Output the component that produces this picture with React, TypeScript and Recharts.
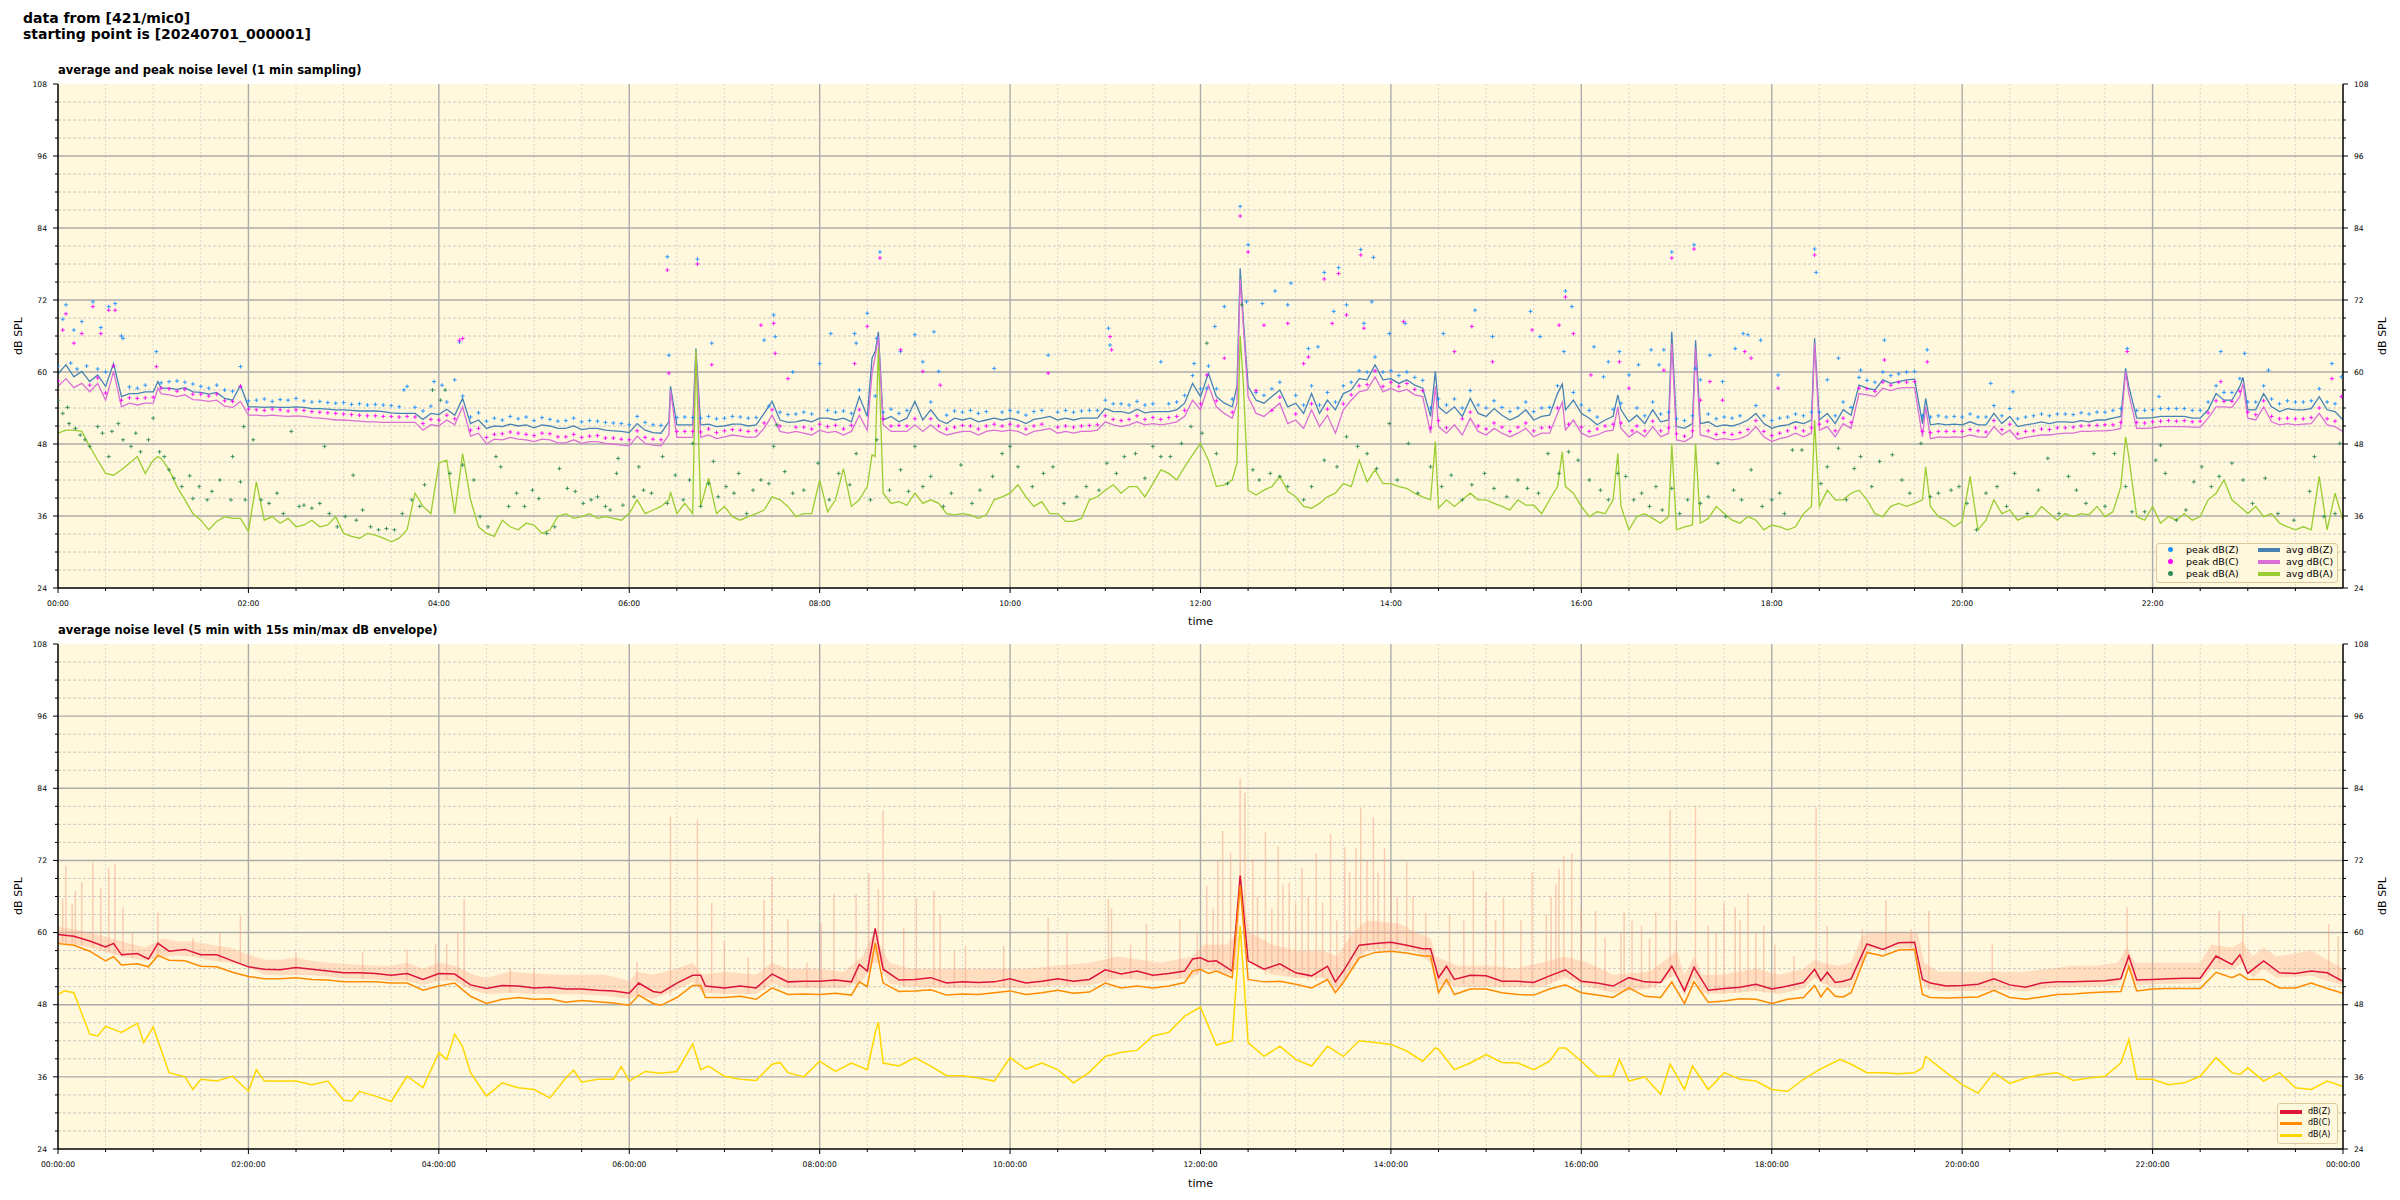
import React from 'react';
import { ComposedChart, Line, Scatter, Area, Bar, XAxis, YAxis, CartesianGrid } from 'recharts';

// ---------- tick labels ----------
const yTickLabels = [24, 36, 48, 60, 72, 84, 96, 108];
const topTimeLabels = ['00:00', '02:00', '04:00', '06:00', '08:00', '10:00', '12:00', '14:00', '16:00', '18:00', '20:00', '22:00'];
const bottomTimeLabels = ['00:00:00', '02:00:00', '04:00:00', '06:00:00', '08:00:00', '10:00:00', '12:00:00', '14:00:00', '16:00:00', '18:00:00', '20:00:00', '22:00:00', '00:00:00'];

// ---------- top chart: 1 min averages (minute of day, dB) ----------
const avgZ: [number, number][] = [
[0,59.7],[5,61.2],[10,59.2],[15,60.1],[20,58.4],[25,59.5],[30,57.6],[35,61.4],[40,55.9],[45,56.4],[50,56.4],[55,56.7],[60,56.7],[63,58.4],[65,57.3],[70,57.3],[75,57.1],[80,57.4],[85,56.7],[90,56.6],[95,56.3],[100,56.6],[105,55.6],[110,55.3],[115,57.8],[120,54.2],[125,54.2],[130,54.1],[135,54.2],[140,54.1],[145,54.1],[150,54.2],[155,54.1],[160,53.9],[165,53.9],[170,53.8],[175,53.7],[180,53.7],[185,53.6],[190,53.5],[195,53.5],[200,53.5],[205,53.4],[210,53.2],[215,53.1],[220,53.1],[225,53.1],[230,52.1],[235,53.1],[240,52.9],[245,53.8],[250,52.8],[255,55.6],[260,51.4],[265,52.0],[270,50.6],[275,51.0],[280,50.9],[285,51.3],[290,51.0],[295,51.2],[300,50.7],[305,51.2],[310,51.0],[315,50.6],[320,50.6],[325,51.0],[330,50.4],[335,50.6],[340,50.6],[345,50.3],[350,50.2],[355,50.1],[360,49.9],[365,51.4],[370,50.3],[375,49.9],[380,49.8],[385,51.7],[386,57.6],[390,51.2],[395,51.2],[400,51.2],[402,63.9],[405,51.2],[410,51.3],[415,50.9],[420,51.0],[425,51.3],[430,51.3],[435,51.0],[440,51.2],[445,53.1],[450,55.1],[455,52.0],[460,51.6],
[465,51.7],[470,52.0],[475,51.7],[480,52.3],[485,52.3],[490,52.0],[495,52.3],[500,51.7],[505,55.9],[510,52.6],[513,62.3],[515,63.4],[517,66.7],[520,52.0],[525,52.6],[530,51.7],[535,52.3],[540,55.1],[545,52.0],[550,53.7],[555,52.0],[560,51.4],[565,52.3],[570,52.0],[575,52.3],[580,51.7],[585,52.0],[590,52.3],[595,52.0],[600,52.3],[605,52.0],[610,51.4],[615,52.1],[620,52.3],[625,52.6],[630,52.0],[635,52.3],[640,52.0],[645,52.3],[650,52.3],[655,52.3],[660,53.9],[665,53.4],[670,53.4],[675,53.1],[680,53.8],[685,53.2],[690,53.4],[695,53.4],[700,53.4],[705,53.7],[710,54.8],[715,58.1],[720,55.9],[725,59.8],[730,55.9],[735,54.8],[740,54.2],[743,57.6],[745,77.3],[747,68.7],[750,57.6],[755,55.3],[760,54.8],[765,55.9],[770,57.0],[775,54.2],[780,54.8],[785,53.1],[790,56.4],[795,53.1],[800,55.3],[805,53.7],[810,56.4],[815,57.0],[820,58.9],[825,58.7],[830,61.2],[835,58.7],[840,58.9],[845,58.1],[850,58.7],[855,57.8],[860,57.3],[865,52.6],[868,60.1],[870,54.2],[875,53.1],[880,54.2],[885,52.6],[890,55.6],[895,53.1],[900,52.6],[905,53.9],[910,52.8],[915,52.0],[920,52.6],[925,53.7],[930,52.0],[935,52.6],[940,52.8],[945,56.4],[948,58.0],[950,53.7],[955,55.3],[960,53.1],[965,52.3],
[970,51.2],[975,52.0],[980,52.6],[983,56.2],[985,53.7],[990,51.7],[995,52.8],[1000,51.4],[1005,53.7],[1010,51.7],[1015,52.0],[1017,66.7],[1020,50.9],[1025,50.6],[1030,51.4],[1032,65.3],[1035,51.4],[1040,51.7],[1045,50.9],[1050,51.2],[1055,51.0],[1060,51.4],[1065,52.0],[1070,53.1],[1075,51.4],[1080,50.6],[1085,51.0],[1090,51.2],[1095,51.7],[1100,51.4],[1105,52.0],[1107,65.6],[1110,52.0],[1115,53.1],[1120,51.4],[1125,53.7],[1130,52.8],[1135,57.8],[1140,57.3],[1145,57.0],[1150,58.7],[1155,58.1],[1160,58.4],[1165,58.7],[1170,58.8],[1175,51.4],[1177,55.6],[1180,51.2],[1185,51.4],[1190,51.2],[1195,51.3],[1200,51.2],[1205,51.7],[1210,51.2],[1215,51.2],[1220,53.1],[1225,51.4],[1230,52.6],[1235,50.9],[1240,51.2],[1245,51.4],[1250,51.7],[1255,51.4],[1260,51.7],[1265,51.7],[1270,51.6],[1275,51.9],[1280,51.7],[1285,52.0],[1290,52.0],[1295,52.3],[1300,52.6],[1303,60.6],[1305,57.6],[1310,52.3],[1315,52.3],[1320,52.4],[1325,52.6],[1330,52.6],[1335,52.6],[1340,52.6],[1345,52.3],[1350,52.3],[1355,53.7],[1360,56.4],[1365,55.3],[1370,55.3],[1375,57.6],[1377,59.1],[1380,53.7],[1385,53.7],[1390,56.4],[1395,54.2],[1400,53.4],[1405,53.9],[1410,53.7],[1415,53.7],[1420,53.9],[1425,55.9],[1430,53.7],[1435,53.4],[1440,52.0]
];

const avgC: [number, number][] = [
[0,57.6],[5,58.9],[10,57.4],[15,58.1],[20,56.7],[25,58.1],[30,55.3],[35,60.1],[40,54.2],[45,54.8],[50,54.5],[55,54.8],[60,54.8],[63,57.3],[65,56.4],[70,56.2],[75,55.9],[80,56.2],[85,55.4],[90,55.3],[95,55.1],[100,55.3],[105,54.3],[110,54.1],[115,55.1],[120,52.8],[125,52.8],[130,52.7],[135,52.8],[140,52.7],[145,52.6],[150,52.7],[155,52.6],[160,52.4],[165,52.3],[170,52.2],[175,52.0],[180,52.0],[185,51.9],[190,51.8],[195,51.7],[200,51.7],[205,51.6],[210,51.6],[215,51.6],[220,51.6],[225,51.6],[230,50.3],[235,51.2],[240,51.0],[245,52.0],[250,51.2],[255,54.2],[260,49.3],[265,49.8],[270,48.0],[275,48.8],[280,48.7],[285,49.1],[290,48.8],[295,48.7],[300,48.4],[305,48.8],[310,48.7],[315,48.2],[320,48.2],[325,48.7],[330,48.1],[335,48.4],[340,48.4],[345,48.1],[350,48.0],[355,47.8],[360,47.7],[365,49.3],[370,48.1],[375,47.8],[380,47.7],[385,49.5],[386,57.0],[390,49.1],[395,49.1],[400,49.1],[402,63.1],[405,49.1],[410,49.5],[415,48.9],[420,49.2],[425,49.5],[430,49.3],[435,49.1],[440,49.2],[445,50.6],[450,52.8],[455,50.1],[460,49.8],
[465,50.1],[470,49.8],[475,49.5],[480,50.3],[485,49.9],[490,50.1],[495,49.5],[500,50.1],[505,52.8],[510,50.3],[513,59.8],[515,62.6],[517,65.9],[520,51.2],[525,50.1],[530,50.1],[535,50.1],[540,51.2],[545,50.1],[550,51.2],[555,50.1],[560,49.5],[565,49.8],[570,50.1],[575,50.1],[580,49.5],[585,50.1],[590,50.3],[595,50.1],[600,50.3],[605,50.1],[610,49.5],[615,50.1],[620,50.3],[625,50.6],[630,49.8],[635,50.1],[640,49.8],[645,50.1],[650,50.1],[655,50.3],[660,51.7],[665,51.2],[670,50.9],[675,51.2],[680,51.7],[685,51.2],[690,51.4],[695,51.2],[700,51.4],[705,51.7],[710,52.6],[715,55.3],[720,53.7],[725,57.8],[730,54.2],[735,53.1],[740,52.3],[743,54.8],[745,75.5],[747,67.6],[750,55.9],[755,53.1],[760,52.6],[765,53.7],[770,54.8],[775,51.4],[780,52.0],[785,50.6],[790,53.7],[795,50.9],[800,52.8],[805,49.8],[810,53.7],[815,55.3],[820,56.7],[825,57.0],[830,59.2],[835,56.7],[840,57.3],[845,56.7],[850,57.1],[855,56.2],[860,55.9],[865,49.8],[868,57.6],[870,50.9],[875,49.8],[880,51.2],[885,49.5],[890,52.3],[895,50.1],[900,49.5],[905,50.6],[910,49.8],[915,49.2],[920,49.8],[925,50.6],[930,49.2],[935,49.8],[940,49.8],[945,53.1],[948,55.0],[950,50.3],[955,52.0],[960,49.8],[965,49.2],
[970,49.5],[975,50.1],[980,50.3],[983,54.2],[985,50.6],[990,49.2],[995,50.1],[1000,49.2],[1005,50.9],[1010,49.2],[1015,49.8],[1017,64.8],[1020,48.7],[1025,48.4],[1030,49.2],[1032,63.9],[1035,49.5],[1040,49.2],[1045,48.7],[1050,48.9],[1055,48.7],[1060,48.9],[1065,49.5],[1070,50.9],[1075,49.2],[1080,48.4],[1085,48.9],[1090,49.2],[1095,49.8],[1100,49.2],[1105,49.8],[1107,64.8],[1110,50.3],[1115,50.9],[1120,49.2],[1125,51.4],[1130,50.6],[1135,56.4],[1140,56.2],[1145,55.9],[1150,57.3],[1155,56.9],[1160,57.3],[1165,57.4],[1170,57.4],[1175,49.2],[1177,54.2],[1180,48.9],[1185,49.2],[1190,49.1],[1195,49.2],[1200,49.1],[1205,49.5],[1210,49.2],[1215,49.1],[1220,50.9],[1225,49.5],[1230,50.3],[1235,48.8],[1240,49.1],[1245,49.3],[1250,49.5],[1255,49.5],[1260,49.7],[1265,49.8],[1270,49.8],[1275,50.1],[1280,50.1],[1285,50.2],[1290,50.2],[1295,50.3],[1300,50.6],[1303,60.1],[1305,56.4],[1310,50.6],[1315,50.6],[1320,50.7],[1325,50.9],[1330,50.9],[1335,50.9],[1340,50.9],[1345,50.8],[1350,50.8],[1355,52.3],[1360,54.2],[1365,54.2],[1370,54.1],[1375,55.9],[1377,58.1],[1380,52.3],[1385,52.0],[1390,54.2],[1395,51.7],[1400,51.2],[1405,51.4],[1410,51.2],[1415,51.3],[1420,51.4],[1425,53.1],[1430,51.2],[1435,50.9],[1440,50.1]
];

const avgA: [number, number][] = [
[0,49.8],[5,50.3],[10,50.3],[15,50.1],[20,47.6],[25,45.3],[30,43.1],[35,42.8],[40,43.7],[45,44.8],[50,45.9],[55,43.1],[60,45.3],[63,45.9],[65,45.6],[70,43.7],[75,40.9],[80,38.7],[85,36.4],[90,35.3],[95,33.7],[100,35.1],[105,35.9],[110,35.6],[115,35.6],[120,33.4],[125,41.7],[130,35.3],[135,35.9],[140,34.8],[145,35.6],[150,34.2],[155,34.5],[160,35.3],[165,34.2],[170,34.5],[175,35.9],[180,33.1],[185,32.6],[190,32.3],[195,33.1],[200,32.8],[205,32.3],[210,31.7],[215,32.3],[220,33.7],[225,39.8],[230,37.6],[235,36.4],[240,44.8],[245,45.3],[250,36.4],[255,46.4],[260,38.7],[265,34.2],[270,33.1],[275,32.6],[280,35.3],[285,34.2],[290,33.7],[295,34.8],[300,34.5],[305,33.1],[310,33.7],[315,35.9],[320,36.4],[325,35.6],[330,35.9],[335,36.4],[340,35.6],[345,35.9],[350,35.6],[355,35.3],[360,36.4],[365,38.7],[370,36.4],[375,37.0],[380,37.6],[385,38.7],[386,40.0],[390,36.4],[395,38.1],[400,36.4],[402,63.7],[405,37.6],[410,42.3],[415,36.4],[420,37.6],[425,35.9],[430,35.3],[435,35.9],[440,36.4],[445,37.0],[450,39.2],[455,38.7],[460,37.6],
[465,35.9],[470,36.4],[475,36.4],[480,42.0],[485,36.7],[490,38.7],[495,43.9],[500,37.6],[505,38.7],[510,40.9],[513,46.2],[515,45.9],[517,64.0],[520,39.8],[525,38.1],[530,38.4],[535,37.8],[540,39.8],[545,38.1],[550,38.7],[555,38.1],[560,36.4],[565,36.2],[570,36.4],[575,36.2],[580,35.6],[585,36.2],[590,38.7],[595,39.2],[600,39.8],[605,41.2],[610,39.2],[615,37.6],[620,38.4],[625,36.4],[630,36.4],[635,35.1],[640,35.1],[645,35.6],[650,38.7],[655,39.2],[660,40.3],[665,41.2],[670,39.8],[675,40.9],[680,40.9],[685,39.2],[690,41.4],[695,43.7],[700,43.1],[705,42.0],[710,44.2],[715,46.2],[720,48.1],[725,45.3],[730,40.9],[735,41.2],[740,42.0],[743,44.8],[745,66.0],[747,58.1],[750,40.3],[755,39.5],[760,40.3],[765,40.9],[770,42.6],[775,40.1],[780,39.2],[785,37.6],[790,37.3],[795,38.1],[800,39.2],[805,39.8],[810,41.4],[815,40.9],[820,45.3],[825,41.7],[830,43.7],[835,41.4],[840,41.4],[845,40.9],[850,40.6],[855,39.8],[860,39.2],[865,38.7],[868,48.4],[870,37.3],[875,38.7],[880,37.6],[885,38.7],[890,39.8],[895,38.7],[900,38.7],[905,38.1],[910,37.6],[915,37.0],[920,38.7],[925,37.8],[930,37.8],[935,36.4],[940,38.7],[945,40.9],[948,46.7],[950,40.9],[955,39.8],[960,37.6],[965,35.9],
[970,36.7],[975,36.4],[980,38.7],[983,46.4],[985,37.6],[990,33.7],[995,35.9],[1000,36.4],[1005,35.6],[1010,34.8],[1015,35.9],[1017,48.0],[1020,33.7],[1025,34.2],[1030,34.5],[1032,48.0],[1035,34.8],[1040,35.6],[1045,37.6],[1050,36.4],[1055,35.3],[1060,34.8],[1065,35.9],[1070,35.3],[1075,33.7],[1080,34.5],[1085,34.2],[1090,33.7],[1095,34.2],[1100,36.4],[1105,37.6],[1107,52.0],[1110,37.6],[1115,40.3],[1120,38.7],[1125,38.7],[1130,39.8],[1135,40.3],[1140,38.7],[1145,36.4],[1150,35.9],[1155,37.6],[1160,38.1],[1165,37.6],[1170,38.1],[1175,38.7],[1177,44.2],[1180,37.6],[1185,35.9],[1190,35.3],[1195,34.2],[1200,35.1],[1205,42.6],[1210,33.7],[1215,35.3],[1220,38.7],[1225,36.4],[1230,37.0],[1235,35.3],[1240,35.9],[1245,35.9],[1250,37.6],[1255,36.4],[1260,35.3],[1265,36.4],[1270,35.9],[1275,36.4],[1280,36.2],[1285,37.6],[1290,35.9],[1295,36.7],[1300,40.9],[1303,49.2],[1305,45.9],[1310,35.9],[1315,35.3],[1320,37.6],[1325,34.8],[1330,35.9],[1335,35.3],[1340,36.4],[1345,35.3],[1350,35.9],[1355,38.7],[1360,39.8],[1365,42.0],[1370,38.7],[1375,37.6],[1380,36.4],[1385,37.6],[1390,35.9],[1395,36.4],[1400,34.8],[1405,34.2],[1410,33.7],[1415,34.2],[1420,33.7],[1425,42.6],[1430,33.7],[1435,39.8],[1440,35.3]
];

// ---------- top chart: 1 min peaks ----------
const peakZ: [number, number][] = [
[0,61],[3,68.8],[5,71.2],[8,61.5],[10,67],[12,60.5],[15,68.4],[18,61],[22,71.7],[25,60.5],[27,67.4],[30,60],[32,70.9],[36,71.4],[40,66],[41,65.6],[45,57.5],[50,57.3],[55,57.8],[62,63.4],[65,58.2],[70,58.4],[75,58.5],[80,58.3],[85,58],[90,57.6],[95,57.3],[100,57.8],[105,57],[110,56.8],[115,60.9],[120,55.2],[125,55.3],[130,55.5],[135,55.1],[140,55.4],[145,55.3],[150,55.6],[155,55.2],[160,55],[165,55.1],[170,54.9],[175,54.8],[180,54.9],[185,54.6],[190,54.7],[195,54.5],[200,54.6],[205,54.5],[210,54.4],[215,54.2],[218,57],[220,57.6],[225,54.1],[230,53.5],[235,54.3],[237,58.4],[242,57.8],[245,55],[250,58.7],[253,65],[255,56],[260,52.5],[265,53.2],[270,51.8],[275,52.3],[280,52],[285,52.6],[290,52.2],[295,52.5],[300,51.9],[305,52.4],[310,52.1],[315,51.8],[320,51.9],[325,52.3],[330,51.7],[335,51.9],[340,51.8],[345,51.6],[350,51.5],[355,51.4],[360,51.2],[365,52.6],[370,51.6],[375,51.2],[380,51.1],[384,79.2],[385,62.8],[390,52.4],[395,52.5],[400,52.4],[403,78.8],[405,52.3],[410,52.6],[412,64.8],[415,52.2],[420,52.3],[425,52.6],[430,52.5],[435,52.3],[440,52.4],[445,65.3],[448,54.3],[451,69.5],[452,65.9],[455,53.3],[460,52.9],[463,60],
[465,53],[470,53.3],[475,53],[480,61.4],[485,53.6],[487,66.4],[490,53.3],[495,53.5],[500,53.1],[502,66.4],[503,64.8],[505,57],[510,69.8],[515,56],[516,65.6],[518,80],[520,53.3],[525,53.8],[530,53.1],[531,63.4],[535,53.6],[540,66.2],[545,61.7],[550,55],[552,66.7],[555,60.1],[560,52.8],[565,53.5],[570,53.3],[575,53.6],[580,53.1],[585,53.4],[590,60.6],[595,53.3],[600,53.6],[605,53.3],[610,52.8],[615,53.4],[620,53.6],[624,62.8],[630,53.3],[635,53.6],[640,53.3],[645,53.5],[650,53.6],[655,53.6],[660,55.3],[662,67.3],[663,64.5],[665,54.7],[670,54.7],[675,54.5],[680,55.1],[685,54.5],[690,54.7],[695,61.7],[700,54.7],[705,55],[710,56.1],[715,59.4],[716,61.4],[720,57.2],[724,57.3],[725,61],[729,67.6],[730,57.2],[735,70.9],[740,55.5],[745,87.6],[749,71.7],[750,81.2],[755,56.6],[759,71.4],[760,56.1],[765,57.2],[767,73.5],[770,58.3],[775,71.2],[777,74.8],[780,56.1],[785,54.5],[788,63.9],[790,57.7],[794,64.2],[795,54.5],[798,76.6],[800,56.6],[804,70.1],[805,55],[807,77.4],[810,57.7],[812,71.2],[815,58.3],[820,60.2],[821,80.4],[823,68.1],[825,60],[828,71.7],[829,79.1],[830,62.5],[835,60],[839,66.4],[840,60.2],[845,59.4],[849,68.1],[850,60],[855,59.1],[860,58.6],[865,54],[870,55.5],[873,66.4],[875,54.5],[880,55.5],[885,54],[890,56.9],[893,70.3],[895,54.5],[900,54],[904,65.9],[905,55.2],[910,54.1],[915,53.4],[920,54],[925,55],[928,70.1],[930,53.4],[934,65.9],[935,54],[940,54.1],[945,57.7],[949,63.4],[950,73.5],[954,70.9],[955,56.6],[960,54.5],[965,53.6],[968,64.2],
[970,52.5],[974,59.2],[977,61.7],[980,53.8],[984,63.4],[985,54.8],[990,59.5],[995,54],[996,61.2],[1000,52.7],[1004,63.7],[1005,55],[1009,61.2],[1010,53],[1012,63.7],[1015,53.3],[1017,80],[1020,52.2],[1025,51.9],[1030,52.7],[1031,81.2],[1032,60.6],[1035,58.7],[1040,53],[1041,62.8],[1045,52.2],[1049,58.4],[1050,52.5],[1055,52.3],[1057,63.9],[1060,52.7],[1062,66.4],[1065,66.2],[1070,54.4],[1073,65.3],[1075,52.7],[1080,51.9],[1084,59.5],[1085,52.3],[1090,52.5],[1095,53],[1100,52.7],[1105,53.3],[1107,80.5],[1108,76.6],[1110,53.3],[1115,58.7],[1120,52.7],[1122,62.3],[1125,55],[1130,54.1],[1135,59.1],[1136,60.3],[1140,58.6],[1145,58.3],[1150,60],[1151,65.3],[1155,59.4],[1160,59.7],[1165,60],[1170,60.1],[1175,52.7],[1178,63.7],[1180,52.5],[1185,52.7],[1190,52.5],[1195,52.6],[1200,52.5],[1205,53],[1210,52.5],[1215,52.5],[1218,58.1],[1220,54.4],[1225,52.7],[1230,53.9],[1232,56.7],[1235,52.2],[1240,52.5],[1245,52.7],[1250,53],[1255,52.7],[1260,53],[1265,53],[1270,52.9],[1275,53.2],[1280,53],[1285,53.3],[1290,53.3],[1295,53.6],[1300,53.9],[1304,63.9],[1310,53.6],[1315,53.6],[1320,53.7],[1324,55.9],[1325,53.9],[1330,53.9],[1335,53.9],[1340,53.9],[1345,53.6],[1350,53.6],[1355,55],[1360,57.7],[1363,63.4],[1365,56.6],[1370,56.6],[1375,58.9],[1378,63.1],[1380,55],[1385,55],[1390,57.7],[1393,60.3],[1395,55.5],[1400,54.7],[1405,55.2],[1410,55],[1415,55],[1420,55.2],[1425,57.2],[1430,55],[1433,61.4],[1435,54.7],[1439,59.2]
];

const peakC: [number, number][] = [
[0,58.5],[3,67],[5,69.7],[10,64.8],[15,66.4],[20,57.8],[22,70.9],[25,59],[27,66.4],[30,56.5],[32,70.3],[35,61],[36,70.3],[40,55.3],[45,55.7],[50,55.6],[55,55.7],[60,55.8],[62,60.9],[65,57.3],[70,57.2],[75,56.8],[80,57.1],[85,56.3],[90,56.3],[95,56],[100,56.3],[105,55.2],[110,55.1],[115,57.6],[120,53.8],[125,53.7],[130,53.6],[135,53.8],[140,53.7],[145,53.5],[150,53.7],[155,53.6],[160,53.4],[165,53.3],[170,53.2],[175,53.1],[180,53],[185,52.9],[190,52.8],[195,52.7],[200,52.7],[205,52.6],[210,52.6],[215,52.5],[220,52.6],[225,52.5],[230,51.4],[235,52.1],[240,52],[245,52.8],[250,52.2],[253,65.3],[255,65.6],[260,50.3],[265,50.6],[270,49.1],[275,49.6],[280,49.7],[285,50],[290,49.8],[295,49.6],[300,49.4],[305,49.8],[310,49.7],[315,49.2],[320,49.2],[325,49.6],[330,49.1],[335,49.3],[340,49.4],[345,49],[350,49],[355,48.8],[360,48.7],[365,50.2],[370,49.1],[375,48.8],[380,48.7],[384,77],[385,59.8],[390,50.1],[395,50.1],[400,50.1],[403,78],[405,50],[410,50.5],[412,61.2],[415,49.9],[420,50.2],[425,50.4],[430,50.3],[435,50.1],[440,50.2],[443,67.8],[445,51.5],[450,53.7],[451,68.1],[452,63.1],[455,51],[460,58.9],[465,50.8],
[470,50.8],[475,50.5],[480,51.3],[485,50.9],[490,51.1],[495,50.5],[500,51.1],[502,61.4],[505,53.7],[510,67.6],[518,79],[520,52.2],[525,51],[530,51.1],[531,63.7],[535,51],[540,52.2],[545,60.1],[550,52.2],[555,51],[556,57.8],[560,50.5],[565,50.8],[570,51.1],[575,51],[580,50.5],[585,51],[590,51.3],[595,51],[600,51.3],[605,51],[610,50.5],[615,51],[620,51.3],[624,59.8],[630,50.8],[635,51],[640,50.8],[645,51],[650,51.1],[655,51.2],[660,52.7],[663,65.9],[664,63.7],[665,52.1],[670,51.9],[675,52.1],[680,52.7],[685,52.1],[690,52.4],[695,52.1],[700,52.4],[705,52.6],[710,53.6],[720,54.7],[724,59.5],[730,55.2],[735,62.3],[740,53.3],[745,86],[750,80],[755,56.9],[760,67.8],[765,53.6],[770,55.8],[775,68.1],[780,53],[785,61.4],[788,62.5],[790,54.7],[798,75.5],[800,53.8],[803,68.1],[807,76.4],[810,54.7],[812,69.5],[815,56.2],[820,57.7],[821,79.5],[823,67.3],[825,57.9],[830,60.2],[835,57.6],[840,58.3],[845,57.6],[848,68.4],[850,58.1],[855,57.1],[860,56.9],[865,50.7],[870,51.9],[875,50.7],[880,63.4],[885,52.2],[890,53.3],[891,67.6],[895,51],[900,50.5],[904,61.7],[905,51.5],[910,50.8],[915,50.1],[920,50.8],[925,51.5],[929,67],[930,50.2],[935,50.7],[940,50.8],[945,54],[946,67.8],[950,72.5],[952,51.3],[955,66.4],[960,50.8],[965,50.1],[966,59.5],
[970,50.5],[975,51],[980,51.3],[984,61.7],[985,51.5],[990,57.3],[992,50.2],[995,51],[1000,50.2],[1005,51.8],[1010,50.2],[1012,60.3],[1015,50.7],[1017,79],[1020,49.7],[1025,49.3],[1030,50.2],[1031,80.5],[1035,55.3],[1040,50.2],[1041,58.4],[1045,49.6],[1049,55.3],[1050,49.9],[1055,49.6],[1060,49.9],[1063,63.4],[1065,50.4],[1067,62.3],[1070,51.9],[1075,50.1],[1080,49.4],[1084,57.3],[1085,49.8],[1090,50.2],[1095,50.7],[1100,50.2],[1105,50.7],[1107,79.5],[1110,51.3],[1115,51.8],[1120,50.2],[1125,52.3],[1130,51.6],[1135,57.3],[1140,57.2],[1145,56.8],[1150,58.3],[1151,62],[1155,57.8],[1160,58.3],[1165,58.3],[1170,58.4],[1175,50.1],[1178,61.7],[1180,49.9],[1185,50.1],[1190,50.1],[1195,50.1],[1200,50.1],[1205,50.4],[1210,50.2],[1215,50],[1220,51.9],[1225,50.4],[1230,51.3],[1235,49.7],[1240,50.1],[1245,50.2],[1250,50.5],[1255,50.4],[1260,50.7],[1265,50.7],[1270,50.8],[1275,51],[1280,51.1],[1285,51.1],[1290,51.2],[1295,51.2],[1300,51.6],[1304,63.4],[1310,51.6],[1315,51.5],[1320,51.7],[1325,51.8],[1330,51.9],[1335,51.8],[1340,51.9],[1345,51.7],[1350,51.8],[1355,53.2],[1360,55.2],[1363,58.4],[1365,55.1],[1370,55.1],[1375,56.8],[1380,53.3],[1385,52.9],[1390,55.2],[1395,52.6],[1400,52.2],[1405,52.3],[1410,52.2],[1415,52.2],[1420,52.4],[1425,54],[1430,52.2],[1433,58.9],[1435,51.8],[1439,55.9]
];

const peakA: [number, number][] = [
[0,55.3],[3,53.1],[6,54.1],[7,51.4],[11,50.6],[14,49.5],[17,48.7],[20,47.6],[25,50.9],[28,49.8],[32,45.9],[34,50.1],[38,51.4],[41,48.7],[46,47.6],[49,49.8],[52,46.7],[57,48.7],[60,52.3],[64,46.7],[67,45.9],[70,43.7],[73,42.3],[78,40.9],[83,42.7],[85,38.9],[89,40.9],[94,38.7],[97,40.1],[102,42],[109,38.7],[110,45.9],[115,41.7],[117,50.9],[118,38.7],[123,48.7],[128,38.7],[133,38.1],[138,39.8],[142,36.4],[147,50.1],[152,37.6],[155,37.8],[160,37.3],[165,38.1],[168,47.6],[171,36.4],[176,34.2],[181,35.9],[186,42.8],[188,35.3],[192,37],[197,34.2],[202,33.7],[207,33.9],[212,33.7],[217,36.4],[223,38.7],[228,37.6],[231,41.2],[236,57],[241,55.3],[244,57],[247,43.1],[255,44.5],[262,42],[266,35.9],[271,34.2],[276,45.9],[279,44.2],[284,37.6],[289,39.8],[294,37.6],[299,40.3],[303,38.9],[308,33.1],[313,34.2],[316,43.9],[321,40.6],[326,40.1],[331,38.1],[336,38.7],[340,39.2],[345,37.6],[348,37],[352,43.1],[353,45.6],[356,37.8],[363,39.2],[366,44.2],[369,40.3],[374,39.8],[381,45.9],[384,38.1],[389,42.8],[394,38.7],[398,42],[400,48.1],[405,37.6],[410,41.4],[413,45.1],[416,39.2],[421,40.9],[426,39.8],[429,43.1],[434,36.4],[438,40.3],[443,42],[448,41.4],[451,47.6],[453,51.2],[458,43.4],[463,39.8],
[470,40.3],[479,44.8],[486,38.7],[492,43.1],[499,41.2],[503,46.4],[512,38.7],[516,48.7],[524,40.3],[531,43.7],[536,40.1],[540,47.6],[545,40.9],[550,42.6],[558,37.6],[563,39.8],[569,44.5],[576,38.1],[581,40.3],[589,42.6],[595,46.4],[600,47.6],[605,44.2],[614,40.9],[621,43.1],[627,44.2],[634,38.1],[642,39.2],[648,40.9],[656,40.3],[661,44.8],[667,43.1],[672,45.9],[679,46.4],[685,42.3],[690,47.6],[695,45.9],[701,45.9],[708,48.1],[714,50.9],[721,49.8],[724,64.8],[730,46.4],[737,41.4],[746,71.2],[753,43.7],[757,42],[764,43.1],[770,42.6],[775,40.9],[785,38.7],[790,40.9],[798,45.3],[806,44.2],[812,49.2],[819,47.6],[825,46.4],[831,43.9],[839,51.4],[844,42],[851,48.1],[857,39.8],[865,44.2],[872,40.9],[878,42.8],[885,38.7],[891,41.2],[899,43.1],[905,40.6],[913,39.2],[920,42],[926,40.6],[933,39.8],[939,46.4],[946,43.1],[952,46.7],[958,45.3],[965,42],
[972,40.3],[977,38.7],[983,43.1],[988,42.6],[993,38.7],[998,39.8],[1003,37.6],[1007,40.9],[1011,37],[1017,40.6],[1022,36.4],[1027,38.7],[1035,38.1],[1040,39.2],[1046,44.8],[1051,35.9],[1056,40.3],[1061,38.7],[1067,43.7],[1074,37.6],[1080,38.7],[1085,39.8],[1088,36.4],[1093,47],[1099,47],[1111,41.4],[1115,44.2],[1122,47.3],[1127,38.7],[1132,43.9],[1136,45.9],[1143,40.9],[1148,45.1],[1156,46.2],[1162,42],[1167,39.8],[1174,48.1],[1180,39.2],[1185,39.8],[1193,40.3],[1198,40.9],[1203,38.1],[1209,33.7],[1215,39.8],[1222,40.9],[1228,37.6],[1233,43.1],[1241,36.4],[1248,40.3],[1254,45.6],[1261,36.4],[1267,42.6],[1272,40.3],[1278,38.1],[1283,46.4],[1290,37.6],[1296,46.4],[1303,40.9],[1307,36.7],[1315,36.7],[1322,45.3],[1325,47.8],[1328,43.1],[1335,35.3],[1341,37],[1346,41.7],[1351,44.2],[1357,40.9],[1362,42.6],[1370,44.8],[1377,42],[1383,38.1],[1391,42.3],[1399,36.4],[1409,35.3],[1419,40.1],[1422,45.9],[1428,35.9],[1435,36.4],[1438,48.1]
];

// ---------- bottom chart: 5 min averages ----------
const botZ: [number, number][] = [
[0,59.7],[10,59.4],[20,58.6],[30,57.6],[35,58.2],[40,56.3],[50,56.5],[57,55.6],[63,58.2],[70,56.9],[80,57.2],[90,56.3],[100,56.3],[110,55.3],[120,54.3],[130,53.9],[140,53.8],[150,54.2],[160,53.9],[170,53.6],[180,53.3],[190,53.3],[200,53.2],[210,52.9],[220,53.2],[230,52.2],[240,53.2],[250,53.1],[260,51.3],[270,50.7],[280,51.2],[290,51.1],[300,50.8],[310,50.9],[320,50.6],[330,50.6],[340,50.4],[350,50.3],[360,49.9],[366,51.6],[375,50.2],[380,50.0],[390,51.6],[400,52.9],[405,52.9],[408,51.1],[420,50.8],[430,51.1],[440,50.8],[450,53.1],[460,51.8],[470,51.9],[480,51.9],[490,52.1],[500,51.8],[505,54.7],[510,53.6],[515,60.7],[520,53.9],[530,52.1],[540,52.2],[550,52.5],[560,51.6],[570,51.8],[580,51.7],[590,51.8],[600,52.3],[610,51.6],[620,51.9],[630,52.3],[640,51.9],[650,52.2],[660,53.8],[670,53.1],[680,53.6],[690,52.9],[700,53.2],[710,53.6],[715,55.6],[720,55.8],[725,55.2],[730,55.3],[740,53.6],[745,69.5],[750,55.3],[760,53.9],[770,54.8],[780,53.3],[790,52.8],[800,54.4],[805,51.8],[810,53.6],[820,57.9],[830,58.2],[840,58.4],[850,57.9],[860,57.3],[865,57.3],[870,52.5],[875,54.4],[880,52.2],[890,52.9],[900,52.8],[910,51.9],[920,51.9],[930,51.7],[940,52.8],[950,53.8],[960,51.9],[970,51.6],[980,51.1],[990,52.5],[1000,51.8],[1010,51.7],[1017,54.4],[1025,50.3],[1031,54.2],[1040,50.4],[1050,50.7],[1060,50.9],[1070,51.4],[1080,50.6],[1090,51.1],[1100,51.7],[1107,53.9],[1111,52.0],[1115,53.4],[1120,51.7],[1125,51.9],[1130,52.3],[1140,58.1],[1150,57.2],[1160,58.3],[1170,58.4],[1175,52.2],[1180,51.6],[1190,51.1],[1200,51.2],[1210,51.4],[1220,52.3],[1230,51.3],[1240,50.9],[1250,51.6],[1260,51.8],[1270,51.8],[1280,51.9],[1290,52.0],[1300,52.3],[1305,56.1],[1310,52.1],[1320,52.2],[1330,52.3],[1340,52.4],[1350,52.4],[1360,56.1],[1370,54.7],[1375,56.3],[1380,53.2],[1390,55.3],[1400,53.3],[1410,53.2],[1420,53.6],[1430,53.3],[1440,51.9]
];

const botC: [number, number][] = [
[0,58.2],[10,57.9],[20,56.9],[30,55.3],[35,56.0],[40,54.6],[50,54.8],[57,54.3],[63,56.2],[70,55.4],[80,55.3],[90,54.4],[100,54.3],[110,53.4],[120,52.7],[130,52.3],[140,52.3],[150,52.5],[160,52.2],[170,52.1],[180,51.8],[190,51.8],[200,51.8],[210,51.6],[220,51.6],[230,50.4],[240,51.1],[250,51.6],[260,49.4],[270,48.2],[280,48.9],[290,49.2],[300,48.9],[310,49.0],[320,48.4],[330,48.7],[340,48.5],[350,48.3],[360,47.9],[366,49.6],[375,48.2],[380,47.9],[390,49.2],[400,51.2],[405,51.2],[408,49.2],[420,49.2],[430,49.4],[440,48.9],[450,50.8],[460,49.7],[470,49.8],[480,49.7],[490,49.9],[500,49.6],[505,51.8],[510,51.0],[515,58.3],[520,51.6],[530,50.2],[540,50.3],[550,50.5],[560,49.6],[570,49.8],[580,49.7],[590,50.0],[600,50.3],[610,49.7],[620,50.0],[630,50.4],[640,49.9],[650,50.1],[660,51.6],[670,50.8],[680,51.1],[690,50.8],[700,51.1],[710,51.7],[715,53.6],[720,53.9],[725,53.2],[730,53.6],[740,52.5],[745,67.8],[750,52.2],[760,51.8],[770,51.9],[780,51.4],[790,50.8],[800,52.2],[805,50.0],[810,51.7],[820,55.8],[830,56.7],[840,56.9],[850,56.6],[860,56.1],[865,56.1],[870,50.0],[875,52.2],[880,49.7],[890,50.6],[900,50.6],[910,50.0],[920,49.7],[930,49.6],[940,50.6],[950,51.3],[960,50.0],[970,49.6],[980,49.2],[990,50.8],[1000,49.4],[1010,49.2],[1017,51.8],[1025,48.2],[1031,51.8],[1040,48.4],[1050,48.6],[1060,49.0],[1070,48.9],[1080,48.2],[1090,48.9],[1100,49.2],[1107,51.2],[1111,49.3],[1115,50.8],[1120,49.4],[1125,49.3],[1130,50.0],[1140,56.7],[1150,56.1],[1160,57.1],[1170,57.2],[1175,49.7],[1180,49.2],[1190,49.1],[1200,49.2],[1210,49.3],[1220,50.4],[1230,49.2],[1240,48.9],[1250,49.3],[1260,49.7],[1270,49.8],[1280,50.0],[1290,50.1],[1300,50.2],[1305,54.4],[1310,50.3],[1320,50.6],[1330,50.7],[1340,50.7],[1350,50.7],[1360,53.4],[1370,52.5],[1375,53.1],[1380,52.2],[1390,52.2],[1400,50.8],[1410,50.8],[1420,51.6],[1430,50.7],[1440,49.9]
];

const botA: [number, number][] = [
[0,49.7],[4,50.3],[10,50.0],[20,43.1],[25,42.8],[30,44.4],[40,43.4],[50,44.9],[54,41.7],[60,44.3],[70,36.7],[80,36.0],[85,33.9],[90,35.6],[100,35.3],[110,36.1],[120,33.6],[125,37.2],[130,35.3],[140,35.3],[150,35.3],[160,34.7],[170,35.3],[180,32.1],[185,32.0],[190,33.6],[200,32.8],[210,31.9],[220,36.1],[230,34.2],[240,40.0],[245,38.9],[250,43.1],[255,41.0],[260,36.7],[270,32.8],[280,35.0],[290,34.2],[300,33.9],[310,32.5],[320,35.8],[325,37.1],[330,35.1],[340,35.6],[350,35.6],[355,37.7],[360,35.3],[370,36.9],[380,36.6],[390,36.9],[400,41.5],[405,37.2],[410,37.8],[420,36.1],[430,35.6],[440,35.4],[450,38.1],[455,38.4],[460,36.7],[470,36.0],[480,38.6],[490,36.9],[500,38.3],[510,37.2],[515,43.3],[517,45.1],[520,38.3],[530,37.8],[540,39.2],[550,37.8],[560,36.2],[570,36.2],[580,35.8],[590,35.3],[600,39.2],[610,37.3],[620,38.3],[630,37.2],[640,35.0],[650,36.8],[660,39.4],[670,40.1],[680,40.4],[690,42.8],[700,43.4],[710,46.1],[720,47.6],[730,41.3],[740,42.0],[745,61.1],[750,41.7],[760,39.4],[770,41.1],[780,38.9],[790,37.8],[800,41.1],[810,39.4],[820,42.0],[830,41.7],[840,41.4],[850,40.3],[860,38.6],[868,40.8],[870,40.6],[880,37.2],[890,38.3],[900,39.7],[910,38.4],[920,38.3],[930,37.2],[940,38.6],[946,40.8],[950,40.8],[960,38.6],[970,36.1],[980,36.1],[984,38.9],[990,35.3],[1000,36.0],[1010,33.1],[1016,38.1],[1025,33.9],[1030,37.8],[1040,33.9],[1050,36.7],[1060,35.6],[1070,35.3],[1080,33.9],[1090,33.6],[1100,35.6],[1110,37.2],[1123,38.9],[1130,38.1],[1140,36.7],[1150,36.7],[1160,36.5],[1170,36.7],[1175,37.5],[1177,39.4],[1190,36.7],[1200,34.7],[1210,33.3],[1220,36.7],[1230,34.9],[1240,35.8],[1250,36.4],[1260,36.7],[1270,35.4],[1280,35.8],[1290,36.1],[1300,38.3],[1305,42.2],[1310,35.6],[1320,35.6],[1330,34.7],[1340,35.0],[1350,36.1],[1360,39.2],[1370,36.7],[1375,36.4],[1380,37.5],[1390,35.3],[1400,36.7],[1410,34.2],[1420,33.9],[1430,35.3],[1440,34.4]
];

// 15 s min/max envelope: steady band (minute, min dB, max dB)
const envBand: [number, number, number][] = [
[0,58.3,61],[20,57.5,60],[40,56,58.5],[55,55.3,57.5],[66,56,59],[75,56.2,58.5],[85,56,58.5],[95,55.4,58],[108,55,57.5],[118,54.5,56.5],[130,53,55.5],[140,52.9,55.5],[150,53,55.8],[160,52.9,55.3],[170,52.7,55],[180,52.4,54.8],[200,52.2,54.5],[210,52,54.5],[220,52,55],[230,51.3,54],[240,52,55],[250,52,54.5],[262,50.3,53],[270,49.8,52.5],[285,50,53.5],[300,49.8,53.2],[315,49.8,53],[330,49.7,53],[345,49.5,53],[360,49,52],[365,49.5,53.5],[375,49,53],[390,50.5,54],[400,51.8,55],[406,50,53],[420,49.8,53.5],[440,49.8,53],[450,51.5,55],[460,50.8,54],[480,50.8,54],[495,50.8,53.5],[507,52,56],[514,55,60],[518,55,58],[524,51.5,55],[537,51,54],[558,50.8,54],[585,50.8,54],[610,50.8,54],[630,51.2,54.5],[650,51.2,55],[668,52.3,56],[695,52,55],[715,52.5,56],[722,54,58],[737,53,58],[743,54,60],[745,67,72],[748,60,64],[751,55,60],[765,53,58],[780,52.5,57],[797,52.5,57],[806,50.5,56],[816,54,60],[825,57,62],[845,57.2,61.5],[856,56.8,60],[865,55,59],[868,51.5,56],[882,51,54.5],[905,51,54.5],[918,51,54],[935,51,55],[950,52.5,56],[964,51,55],[980,50,53],[1003,50.7,53.5],[1016,52.5,56],[1020,53,57],[1025,49.5,53],[1031,52.5,56],[1036,50,53],[1048,49.8,53],[1070,50.3,54],[1085,49.8,53],[1100,50.7,54],[1107,52.5,55.5],[1112,51.5,55],[1122,50.7,54.5],[1130,51,55],[1137,55,59.5],[1142,57.2,60],[1158,57.4,60],[1172,57.3,60],[1176,51,55],[1185,50.3,53.5],[1210,50.3,53.5],[1225,50.5,53.5],[1240,50.2,53.5],[1255,50.8,54],[1270,51,54.5],[1285,51.1,54.5],[1298,51.3,55],[1304,54.5,57.5],[1309,51.3,55],[1335,51.5,55],[1350,51.6,55],[1357,54,58],[1370,53.8,57.5],[1377,55,58.5],[1383,52.5,56],[1390,54,57.5],[1398,52.5,56],[1420,52.8,57],[1440,51.2,54]
];

// 15 s min/max envelope: short spikes (minute, min dB, max dB)
const envSpikes: [number, number, number][] = [
[3,58.5,65.6],[5,58.3,71.1],[9,58.2,64.7],[11,58.1,66.9],[15,57.9,68.4],[22,57.5,71.6],[27,57.2,67.5],[32,56.8,70.8],[36,56.3,71.4],[41,56,64.2],[47,55.8,60],[63,56,63.4],[85,56,59],[102,55.3,59.9],[115,54.8,62.8],[150,53,56.6],[192,52.3,56.7],[220,52,57.2],[238,52,58.1],[245,52.2,58.1],[252,52,60],[256,51,65.6],[285,50,54.2],[300,49.8,54.2],[365,49.5,55.1],[386,49.5,79.3],[403,51.5,78.8],[412,50,64.9],[420,49.8,58.6],[435,49.8,55.8],[445,50.5,65.4],[450,51.8,69.4],[460,50.8,62.2],[472,50.8,55],[481,50.8,61.6],[489,51,66.4],[503,51,66.4],[511,53.5,69.8],[517,56,67.2],[520,53,80.3],[533,51,60.8],[541,51.3,65.8],[552,51.3,66.9],[556,51.3,63],[565,51,57],[572,50.8,57.8],[596,51,57.8],[624,51,62.5],[636,51,60],[662,52.5,65.6],[664,52.5,64],[676,52.3,58],[686,52,61.4],[707,52.3,62.3],[718,53,60],[724,54.5,67.8],[728,54.3,64],[731,54.5,72],[734,54.3,76.9],[739,53,73.3],[745,67,85.6],[748,62,83.3],[753,54.5,72.2],[756,54,66],[761,53,76.7],[765,53.5,64],[769,53.8,74.4],[772,53.5,68],[776,52.8,68.3],[780,52.5,65],[784,52.5,70.8],[788,52,66],[793,52,73.1],[797,52.5,65],[802,53,76.4],[806,51,62],[811,52.5,74.2],[814,54,70],[818,56,74],[821,56.5,80.8],[825,57,72],[829,57.2,79.2],[832,57.3,70],[836,57.3,74],[840,57.4,68.9],[844,57.2,66],[850,57,71.7],[854,57,66],[862,56.5,63.3],[877,51.5,63],[886,51.5,62],[892,51.5,70.3],[900,51.5,66.7],[906,51,62],[911,51,65.8],[922,51,62],[929,50.8,70],[938,51,63],[941,51.5,66],[944,52,68],[946,52.5,70.6],[949,52.8,72.8],[954,52.2,73.1],[960,51.5,64],[969,50.8,63.6],[975,50.3,59.2],[985,51,60],[987,51,63.4],[992,51,62],[998,50.8,61.1],[1003,51,59],[1007,50.6,63.4],[1016,52.5,80.4],[1020,53,62],[1032,52.5,81],[1040,49.6,61.1],[1045,50,60],[1050,50,65],[1057,50,64.2],[1060,50,62],[1065,50.3,66.4],[1070,50.3,60],[1075,50,61.1],[1082,50,58],[1094,50.5,56.1],[1108,52.5,80.8],[1115,51.5,61.1],[1137,55,60.6],[1152,56.5,65.4],[1168,57.5,60.5],[1179,50.5,63.6],[1219,51.3,58.1],[1304,54.5,64.2],[1362,54.8,63.6],[1377,55,63.1],[1431,52.6,61.4],[1437,51.8,59.4]
];

// ---------- styling ----------
const FONT = 'DejaVu Sans, sans-serif';
const BG = '#FFF8DC';
const pts = (a: [number, number][]) => a.map(([t, v]) => ({ t, v }));
const bandData = envBand.map(([t, lo, hi]) => ({ t, r: [lo, hi] }));
const spikeData = envSpikes.map(([t, lo, hi]) => ({ t, r: [lo, hi] }));

const yTicks: number[] = [];
for (let v = 24; v <= 108; v += 3) yTicks.push(v);
const minorY = yTicks.filter((v) => v % 12 !== 0);
const majorY = [36, 48, 60, 72, 84, 96];
const xTicksTop: number[] = [];
for (let t = 0; t < 1440; t += 30) xTicksTop.push(t);
const xTicksBottom = [...xTicksTop, 1440];
const minorX = xTicksTop.filter((t) => t % 120 !== 0);
const majorX = xTicksTop.filter((t) => t % 120 === 0 && t > 0);

const YTick = (props: any) => {
  const { x, y, payload, side } = props;
  const v = payload.value;
  const major = v % 12 === 0;
  const s = side === 'left' ? -1 : 1;
  const len = major ? 5 : 3;
  return (
    <g>
      <line x1={x} x2={x + s * len} y1={y} y2={y} stroke="#000" strokeWidth={1} />
      {major && yTickLabels.includes(v) && (
        <text x={x + s * 11} y={y} dy={2.7} textAnchor={side === 'left' ? 'end' : 'start'} fontSize={7.6} fontFamily={FONT} fill="#000">
          {String(v)}
        </text>
      )}
    </g>
  );
};

const XTick = (props: any) => {
  const { x, y, payload, labels } = props;
  const v = payload.value;
  const major = v % 120 === 0;
  const label = major ? labels[v / 120] : undefined;
  return (
    <g>
      <line x1={x} x2={x} y1={y} y2={y + (major ? 5 : 3)} stroke="#000" strokeWidth={1} />
      {label && (
        <text x={x} y={y + 18} textAnchor="middle" fontSize={7.6} fontFamily={FONT} fill="#000">
          {label}
        </text>
      )}
    </g>
  );
};

const plus = (color: string) => (props: any) => {
  const { cx, cy } = props;
  if (cx == null || cy == null) return <g />;
  return <path d={`M${cx - 2},${cy}h4M${cx},${cy - 2}v4`} stroke={color} strokeWidth={0.9} fill="none" />;
};

function frame(xTicks: number[], labels: string[], xHeight: number, timeOffset: number) {
  return [
    <CartesianGrid key="bg" fill={BG} fillOpacity={1} horizontal={false} vertical={false} stroke="none" />,
    <CartesianGrid key="mv" horizontal={false} verticalValues={minorX} stroke="#cfcfcf" strokeDasharray="2 2" strokeWidth={0.8} fill="none" />,
    <CartesianGrid key="mh" vertical={false} horizontalValues={minorY} stroke="#bdbdbd" strokeDasharray="3 2" strokeWidth={0.8} fill="none" />,
    <CartesianGrid key="mj" horizontalValues={majorY} verticalValues={majorX} stroke="#ababab" strokeWidth={1.4} fill="none" />,
    <XAxis key="x" dataKey="t" type="number" domain={[0, 1440]} ticks={xTicks} interval={0} allowDataOverflow
      tickSize={0} tickMargin={0} tickLine={false} axisLine={{ stroke: '#000', strokeWidth: 1.5 }} height={xHeight}
      tick={(p: any) => <XTick {...p} labels={labels} />}
      label={{ value: 'time', position: 'insideBottom', offset: timeOffset, fontSize: 11, fill: '#000', fontFamily: FONT }} />,
    <XAxis key="xt" xAxisId="top" orientation="top" type="number" domain={[0, 1440]} height={0} tick={false} tickLine={false}
      axisLine={{ stroke: '#000', strokeWidth: 1.5 }} />,
    <YAxis key="yl" type="number" domain={[24, 108]} ticks={yTicks} interval={0} width={58} allowDataOverflow
      tickSize={0} tickMargin={0} tickLine={false} axisLine={{ stroke: '#000', strokeWidth: 1.5 }}
      tick={(p: any) => <YTick {...p} side="left" />} />,
    <YAxis key="yr" yAxisId="r" orientation="right" type="number" domain={[24, 108]} ticks={yTicks} interval={0} width={57} allowDataOverflow
      tickSize={0} tickMargin={0} tickLine={false} axisLine={{ stroke: '#000', strokeWidth: 1.5 }}
      tick={(p: any) => <YTick {...p} side="right" />} />,
  ];
}

const txt: React.CSSProperties = { position: 'absolute', fontFamily: FONT, color: '#000', whiteSpace: 'nowrap' };

function VLabel({ x, y }: { x: number; y: number }) {
  return (
    <div style={{ ...txt, left: x, top: y, fontSize: 11, transform: 'translate(-50%, -50%) rotate(-90deg)' }}>dB SPL</div>
  );
}

function TopLegend() {
  const rows = [
    { m: '#1E90FF', l: '#4682B4', a: 'peak dB(Z)', b: 'avg dB(Z)' },
    { m: '#FF00FF', l: '#DA70D6', a: 'peak dB(C)', b: 'avg dB(C)' },
    { m: '#2E8B57', l: '#9ACD32', a: 'peak dB(A)', b: 'avg dB(A)' },
  ];
  return (
    <div style={{ position: 'absolute', left: 2156, top: 543, width: 182, height: 40, boxSizing: 'border-box', border: '1px solid #dcc9a0', borderRadius: 3, background: 'rgba(255,248,220,0.85)' }}>
      {rows.map((r, i) => (
        <React.Fragment key={i}>
          <div style={{ position: 'absolute', left: 10.5, top: 5.5 + i * 12 - 2.5, width: 5, height: 5, borderRadius: '50%', background: r.m }} />
          <div style={{ ...txt, left: 29, top: 5.5 + i * 12 - 6, fontSize: 9.5, lineHeight: '12px' }}>{r.a}</div>
          <div style={{ position: 'absolute', left: 101, top: 5.5 + i * 12 - 1.5, width: 22, height: 3.5, background: r.l }} />
          <div style={{ ...txt, left: 129, top: 5.5 + i * 12 - 6, fontSize: 9.5, lineHeight: '12px' }}>{r.b}</div>
        </React.Fragment>
      ))}
    </div>
  );
}

function BottomLegend() {
  const rows = [
    { l: '#DC143C', a: 'dB(Z)' },
    { l: '#FF8C00', a: 'dB(C)' },
    { l: '#FFD700', a: 'dB(A)' },
  ];
  return (
    <div style={{ position: 'absolute', left: 2277, top: 1103, width: 61, height: 41, boxSizing: 'border-box', border: '1px solid #dcc9a0', borderRadius: 3, background: 'rgba(255,248,220,0.85)' }}>
      {rows.map((r, i) => (
        <React.Fragment key={i}>
          <div style={{ position: 'absolute', left: 2, top: 7.7 + i * 11.7 - 1.5, width: 22, height: 3.5, background: r.l }} />
          <div style={{ ...txt, left: 30, top: 7.7 + i * 11.7 - 6, fontSize: 8, lineHeight: '12px' }}>{r.a}</div>
        </React.Fragment>
      ))}
    </div>
  );
}

export default function App() {
  return (
    <div style={{ position: 'absolute', left: 0, top: 0, width: 2400, height: 1200, background: '#fff', overflow: 'hidden' }}>
      <div style={{ ...txt, left: 23, top: 10, fontSize: 14, fontWeight: 'bold', lineHeight: '16px' }}>
        data from [421/mic0]<br />starting point is [20240701_000001]
      </div>
      <div style={{ ...txt, left: 58, top: 63, fontSize: 11.5, fontWeight: 'bold', lineHeight: '14px' }}>
        average and peak noise level (1 min sampling)
      </div>
      <div style={{ ...txt, left: 58, top: 623, fontSize: 11.5, fontWeight: 'bold', lineHeight: '14px' }}>
        average noise level (5 min with 15s min/max dB envelope)
      </div>

      <div style={{ position: 'absolute', left: 0, top: 0 }}>
        <ComposedChart width={2400} height={640} margin={{ top: 84, right: 0, bottom: 0, left: 0 }}>
          {frame(xTicksTop, topTimeLabels, 52, 15)}
          <Scatter data={pts(peakZ)} dataKey="v" shape={plus('#1E90FF')} isAnimationActive={false} />
          <Scatter data={pts(peakC)} dataKey="v" shape={plus('#FF00FF')} isAnimationActive={false} />
          <Scatter data={pts(peakA)} dataKey="v" shape={plus('#2E8B57')} isAnimationActive={false} />
          <Line data={pts(avgZ)} dataKey="v" type="linear" stroke="#4682B4" strokeWidth={1.3} dot={false} activeDot={false} isAnimationActive={false} />
          <Line data={pts(avgC)} dataKey="v" type="linear" stroke="#DA70D6" strokeWidth={1.3} dot={false} activeDot={false} isAnimationActive={false} />
          <Line data={pts(avgA)} dataKey="v" type="linear" stroke="#9ACD32" strokeWidth={1.3} dot={false} activeDot={false} isAnimationActive={false} />
        </ComposedChart>
      </div>

      <div style={{ position: 'absolute', left: 0, top: 600 }}>
        <ComposedChart width={2400} height={600} data={spikeData} margin={{ top: 44, right: 0, bottom: 0, left: 0 }}>
          {frame(xTicksBottom, bottomTimeLabels, 51, 13)}
          <Area data={bandData} dataKey="r" type="linear" stroke="none" fill="#FFA07A" fillOpacity={0.3} dot={false} activeDot={false} isAnimationActive={false} />
          <Bar dataKey="r" barSize={1.6} fill="#F4A58A" fillOpacity={0.55} isAnimationActive={false} />
          <Line data={pts(botZ)} dataKey="v" type="linear" stroke="#DC143C" strokeWidth={1.5} dot={false} activeDot={false} isAnimationActive={false} />
          <Line data={pts(botC)} dataKey="v" type="linear" stroke="#FF8C00" strokeWidth={1.5} dot={false} activeDot={false} isAnimationActive={false} />
          <Line data={pts(botA)} dataKey="v" type="linear" stroke="#FFD700" strokeWidth={1.5} dot={false} activeDot={false} isAnimationActive={false} />
        </ComposedChart>
      </div>

      <VLabel x={18} y={336} />
      <VLabel x={2382} y={336} />
      <VLabel x={18} y={896} />
      <VLabel x={2382} y={896} />
      <TopLegend />
      <BottomLegend />
    </div>
  );
}
